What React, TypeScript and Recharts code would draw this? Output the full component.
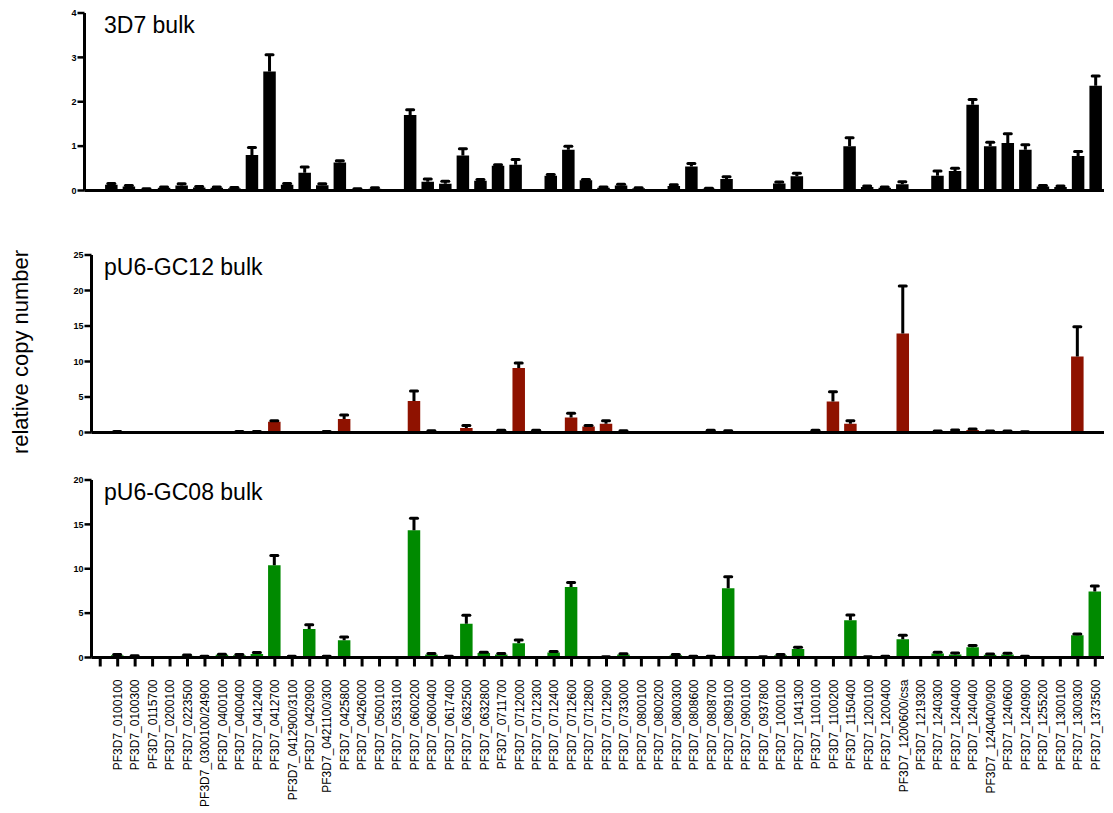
import { BarChart, Bar, XAxis, YAxis } from "recharts";

// gene loci on the x axis (the leading empty slot is added when the rows are built)
const genes = [
  "PF3D7_0100100", "PF3D7_0100300", "PF3D7_0115700", "PF3D7_0200100", "PF3D7_0223500",
  "PF3D7_0300100/24900", "PF3D7_0400100", "PF3D7_0400400", "PF3D7_0412400", "PF3D7_0412700",
  "PF3D7_0412900/3100", "PF3D7_0420900", "PF3D7_0421100/300", "PF3D7_0425800", "PF3D7_0426000",
  "PF3D7_0500100", "PF3D7_0533100", "PF3D7_0600200", "PF3D7_0600400", "PF3D7_0617400",
  "PF3D7_0632500", "PF3D7_0632800", "PF3D7_0711700", "PF3D7_0712000", "PF3D7_0712300",
  "PF3D7_0712400", "PF3D7_0712600", "PF3D7_0712800", "PF3D7_0712900", "PF3D7_0733000",
  "PF3D7_0800100", "PF3D7_0800200", "PF3D7_0800300", "PF3D7_0808600", "PF3D7_0808700",
  "PF3D7_0809100", "PF3D7_0900100", "PF3D7_0937800", "PF3D7_1000100", "PF3D7_1041300",
  "PF3D7_1100100", "PF3D7_1100200", "PF3D7_1150400", "PF3D7_1200100", "PF3D7_1200400",
  "PF3D7_1200600/csa", "PF3D7_1219300", "PF3D7_1240300", "PF3D7_1240400", "PF3D7_1240400",
  "PF3D7_1240400/900", "PF3D7_1240600", "PF3D7_1240900", "PF3D7_1255200", "PF3D7_1300100",
  "PF3D7_1300300", "PF3D7_1373500",
];

const bulk3D7 = [
  0.13, 0.09, 0.03, 0.06, 0.11, 0.07, 0.06, 0.05, 0.8, 2.68,
  0.13, 0.4, 0.12, 0.63, 0.03, 0.04, 0.01, 1.7, 0.2, 0.15,
  0.79, 0.22, 0.56, 0.58, 0.01, 0.33, 0.92, 0.23, 0.06, 0.11,
  0.05, 0.02, 0.1, 0.54, 0.04, 0.26, 0.02, 0.01, 0.16, 0.32,
  0, 0, 1.0, 0.08, 0.06, 0.14, 0.02, 0.33, 0.44, 1.93,
  1.0, 1.07, 0.92, 0.09, 0.08, 0.78, 2.36,
];
const bulk3D7Sd = [
  0.03, 0.02, 0.01, 0.02, 0.04, 0.02, 0.02, 0.02, 0.17, 0.38,
  0.03, 0.13, 0.03, 0.04, 0.01, 0.02, 0, 0.12, 0.06, 0.06,
  0.15, 0.03, 0.02, 0.12, 0, 0.03, 0.08, 0.02, 0.02, 0.03,
  0.01, 0, 0.03, 0.07, 0.01, 0.05, 0, 0, 0.03, 0.07,
  0, 0, 0.19, 0.02, 0.02, 0.06, 0, 0.11, 0.06, 0.12,
  0.09, 0.21, 0.11, 0.02, 0.02, 0.1, 0.22,
];

const gc12 = [
  0.1, 0.05, 0, 0, 0.02, 0, 0.02, 0.1, 0.1, 1.5,
  0, 0.02, 0.1, 1.9, 0, 0, 0, 4.45, 0.15, 0,
  0.65, 0, 0.2, 9.1, 0.2, 0, 2.1, 0.85, 1.25, 0.15,
  0, 0, 0, 0.05, 0.2, 0.15, 0.05, 0.05, 0.05, 0,
  0.2, 4.35, 1.25, 0.05, 0.05, 13.95, 0, 0.1, 0.2, 0.35,
  0.1, 0.1, 0.05, 0, 0, 10.7, 0.05,
];
const gc12Sd = [
  0.05, 0, 0, 0, 0, 0, 0, 0.05, 0.05, 0.15,
  0, 0, 0.05, 0.55, 0, 0, 0, 1.4, 0.1, 0,
  0.35, 0, 0.1, 0.7, 0.1, 0, 0.6, 0.15, 0.4, 0.1,
  0, 0, 0, 0, 0.1, 0.1, 0, 0, 0, 0,
  0.1, 1.4, 0.4, 0, 0, 6.7, 0, 0.1, 0.15, 0.15,
  0.1, 0.1, 0.05, 0, 0, 4.2, 0,
];

const gc08 = [
  0.25, 0.15, 0, 0, 0.2, 0.1, 0.3, 0.25, 0.4, 10.4,
  0.1, 3.2, 0.1, 1.95, 0.05, 0.05, 0, 14.35, 0.35, 0.1,
  3.8, 0.5, 0.35, 1.6, 0, 0.55, 7.95, 0.02, 0.05, 0.35,
  0.05, 0.05, 0.25, 0.12, 0.1, 7.8, 0, 0.05, 0.25, 0.95,
  0, 0, 4.2, 0.05, 0.1, 2.05, 0, 0.45, 0.35, 1.15,
  0.3, 0.35, 0.1, 0.05, 0.05, 2.5, 7.45,
];
const gc08Sd = [
  0.08, 0.05, 0, 0, 0.08, 0.03, 0.08, 0.08, 0.15, 1.1,
  0.03, 0.5, 0.03, 0.35, 0, 0, 0, 1.35, 0.1, 0.03,
  0.95, 0.1, 0.1, 0.38, 0, 0.12, 0.5, 0, 0.03, 0.08,
  0, 0, 0.08, 0.03, 0.03, 1.3, 0, 0.03, 0.1, 0.2,
  0, 0, 0.6, 0.03, 0.05, 0.45, 0, 0.15, 0.15, 0.2,
  0.1, 0.12, 0.05, 0, 0, 0.15, 0.6,
];

const FONT = "'Liberation Sans', Arial, sans-serif";
const W = 1113;

function buildRows(vals: number[], sd: number[]) {
  // slot 0 is the empty gap between the y axis and the first locus
  const rows: any[] = [{ id: 0, value: null, sd: null }];
  genes.forEach((_, i) => {
    rows.push({ id: i + 1, value: vals[i], sd: sd[i] });
  });
  return rows;
}

// upper-only error whisker (GraphPad style), drawn on the stacked sd segment
function Whisker(props: any) {
  const { x, y, width, height, payload } = props;
  if (!payload || !payload.sd) return null;
  const cx = x + width / 2;
  return (
    <g>
      <line x1={cx} x2={cx} y1={y + height} y2={y} stroke="#000" strokeWidth={3} />
      <line x1={cx - 3.5} x2={cx + 3.5} y1={y} y2={y} stroke="#000" strokeWidth={3} strokeLinecap="round" />
    </g>
  );
}

function GeneTick({ x, y, payload }: any) {
  const label = payload.value === 0 ? "" : genes[payload.value - 1];
  return (
    <text
      x={x}
      y={y}
      transform={`rotate(-90 ${x} ${y})`}
      textAnchor="end"
      dy="0.36em"
      fontSize={12}
      fontFamily={FONT}
      fill="#000"
    >
      {label}
    </text>
  );
}

interface PanelProps {
  title: string;
  vals: number[];
  sd: number[];
  color: string;
  max: number;
  ticks: number[];
  top: number;
  left: number;
  labels?: boolean;
}

function Panel({ title, vals, sd, color, max, ticks, top, left, labels }: PanelProps) {
  const rows = buildRows(vals, sd);
  const axisH = labels ? 155 : 20;
  const height = 15 + 177.5 + axisH;
  return (
    <div style={{ position: "absolute", left: 0, top: top - 15, width: W, height }}>
      <BarChart
        width={W}
        height={height}
        data={rows}
        margin={{ top: 15, right: 9, bottom: 0, left: left - 40 }}
        barSize={12.5}
      >
        <XAxis
          dataKey="id"
          type="category"
          interval={0}
          height={axisH}
          axisLine={{ stroke: "#000", strokeWidth: 3 }}
          tickLine={{ stroke: "#000", strokeWidth: 3 }}
          tickSize={9}
          tickMargin={13}
          tick={labels ? <GeneTick /> : false}
        />
        <YAxis
          width={40}
          domain={[0, max]}
          ticks={ticks}
          allowDataOverflow
          axisLine={{ stroke: "#000", strokeWidth: 3 }}
          tickLine={{ stroke: "#000", strokeWidth: 2.5 }}
          tickSize={7}
          tickMargin={1}
          tick={{ fontSize: 9, fontWeight: 700, fill: "#000", fontFamily: FONT }}
        />
        <Bar dataKey="value" stackId="s" fill={color} isAnimationActive={false} />
        <Bar dataKey="sd" stackId="s" fill="none" shape={<Whisker />} isAnimationActive={false} />
      </BarChart>
      <div
        style={{
          position: "absolute",
          left: 104,
          top: 14,
          fontFamily: FONT,
          fontSize: 23,
          color: "#000",
          whiteSpace: "nowrap",
        }}
      >
        {title}
      </div>
    </div>
  );
}

export default function App() {
  return (
    <div style={{ position: "absolute", left: 0, top: 0, width: W, height: 813, background: "#fff" }}>
      <Panel title="3D7 bulk" vals={bulk3D7} sd={bulk3D7Sd} color="#000000" max={4} ticks={[0, 1, 2, 3, 4]} top={12.5} left={84.5} />
      <Panel title="pU6-GC12 bulk" vals={gc12} sd={gc12Sd} color="#8f1200" max={25} ticks={[0, 5, 10, 15, 20, 25]} top={255} left={91.5} />
      <Panel title="pU6-GC08 bulk" vals={gc08} sd={gc08Sd} color="#008a00" max={20} ticks={[0, 5, 10, 15, 20]} top={480} left={91.5} labels />
      <div
        style={{
          position: "absolute",
          left: 21,
          top: 352,
          transform: "translate(-50%, -50%) rotate(-90deg)",
          fontFamily: FONT,
          fontSize: 22,
          color: "#000",
          whiteSpace: "nowrap",
        }}
      >
        relative copy number
      </div>
    </div>
  );
}
